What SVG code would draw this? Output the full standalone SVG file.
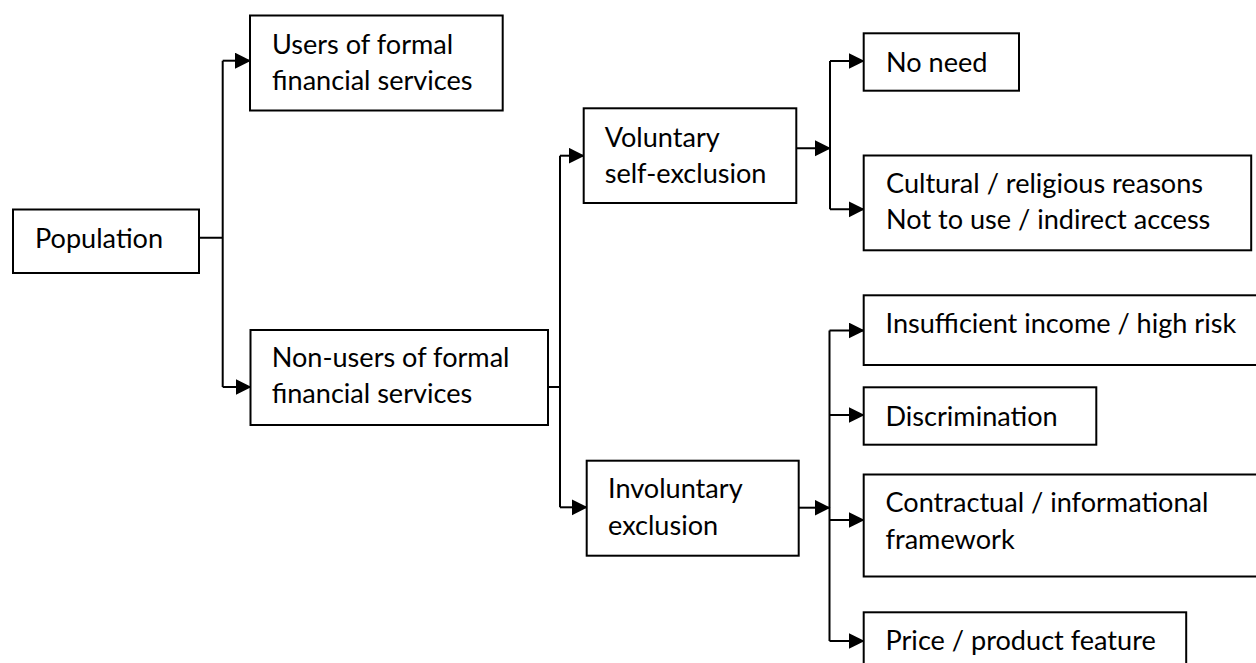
<svg xmlns="http://www.w3.org/2000/svg" width="1256" height="663" viewBox="0 0 1256 663">
<style>
.box{fill:#fff;stroke:#000;stroke-width:2}
.t{font-family:Lato,"Open Sans","Liberation Sans",sans-serif;font-size:27.1px;fill:#000}
.c{fill:none;stroke:#000;stroke-width:2}
.a{fill:none;stroke:#000;stroke-width:2;marker-end:url(#ah)}
</style>
<defs>
<marker id="ah" markerUnits="userSpaceOnUse" markerWidth="17" markerHeight="17" refX="15" refY="8" orient="auto">
<path d="M0,0 L16,8 L0,16 z" fill="#000"/>
</marker>
</defs>
<rect width="1256" height="663" fill="#fff"/>
<g id="connectors">
<path class="c" d="M199 237.7 H222.7 M222.7 60.7 V387"/>
<path class="a" d="M222.7 60.7 H250"/>
<path class="a" d="M222.7 387 H250.5"/>
<path class="c" d="M548 387 H560 M560 155.7 V507.3"/>
<path class="a" d="M560 155.7 H583.7"/>
<path class="a" d="M560 507.3 H586.7"/>
<path class="a" d="M796.3 148.3 H830"/>
<path class="c" d="M830 61 V209.3"/>
<path class="a" d="M830 61 H863.7"/>
<path class="a" d="M830 209.3 H863.7"/>
<path class="a" d="M798.7 507.7 H829.5"/>
<path class="c" d="M829.5 330.5 V641"/>
<path class="a" d="M829.5 330.5 H863.7"/>
<path class="a" d="M829.5 415 H863.7"/>
<path class="a" d="M829.5 520 H863.7"/>
<path class="a" d="M829.5 641 H863.7"/>
</g>
<g id="population"><rect class="box" x="13" y="209.5" width="186" height="63.5"/><text class="t" x="35" y="248">Population</text></g>
<g id="users"><rect class="box" x="250" y="15.5" width="252.7" height="95"/><text class="t" x="272" y="54">Users of formal</text><text class="t" x="272" y="90">financial services</text></g>
<g id="nonusers"><rect class="box" x="250.5" y="330" width="297.5" height="95"/><text class="t" x="271.7" y="367.3">Non-users of formal</text><text class="t" x="271.7" y="403.3">financial services</text></g>
<g id="voluntary"><rect class="box" x="583.7" y="108.3" width="212.6" height="94.7"/><text class="t" x="604.7" y="147.3">Voluntary</text><text class="t" x="604.7" y="182.7">self-exclusion</text></g>
<g id="involuntary"><rect class="box" x="586.7" y="460.7" width="212" height="95"/><text class="t" x="608" y="498.3">Involuntary</text><text class="t" x="608" y="535">exclusion</text></g>
<g id="noneed"><rect class="box" x="863.7" y="33.3" width="155.3" height="57.4"/><text class="t" x="886" y="71.7">No need</text></g>
<g id="cultural"><rect class="box" x="863.7" y="155.5" width="387.5" height="94.8"/><text class="t" x="886" y="193.3">Cultural / religious reasons</text><text class="t" x="886" y="229.3">Not to use / indirect access</text></g>
<g id="insufficient"><rect class="box" x="863.7" y="295.3" width="400" height="69.7"/><text class="t" x="885.5" y="333.3">Insufficient income / high risk</text></g>
<g id="discrimination"><rect class="box" x="863.7" y="387.3" width="232.6" height="57.4"/><text class="t" x="885.5" y="425.7">Discrimination</text></g>
<g id="contractual"><rect class="box" x="863.7" y="474.5" width="400" height="102"/><text class="t" x="885.5" y="511.7">Contractual / informational</text><text class="t" x="885.5" y="549">framework</text></g>
<g id="price"><rect class="box" x="863.7" y="612.3" width="322.5" height="80"/><text class="t" x="885.5" y="650">Price / product feature</text></g>
</svg>
